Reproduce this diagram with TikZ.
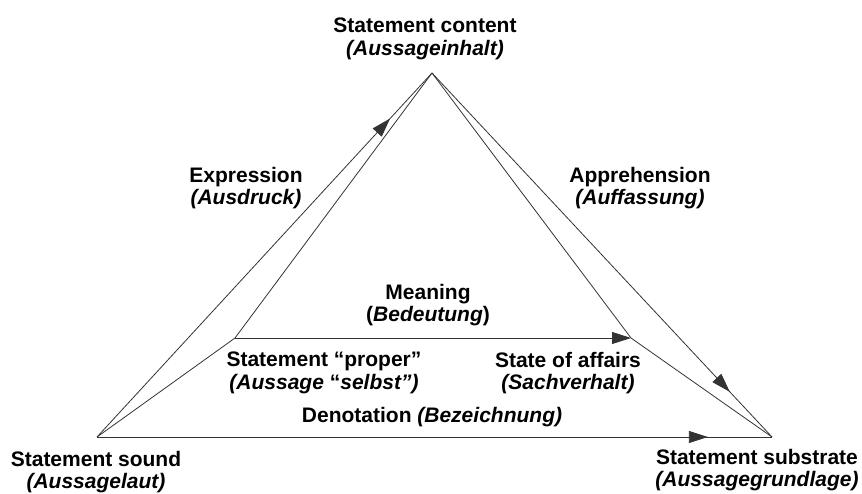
\documentclass[tikz,border=0pt]{standalone}
\usepackage{fontspec}
\setmainfont{Liberation Sans}
\usepackage{tikz}
\usetikzlibrary{arrows.meta}
\usetikzlibrary{decorations.markings}
\usetikzlibrary{positioning}

\begin{document}
\begin{tikzpicture}[x=1pt,y=-1pt,
            edge/.style = {draw=black!80, line width=0.8pt},
            tip/.style = {-{Triangle[length=19pt,width=12pt]}},
            midarrow/.style = {postaction={decorate},
                decoration={markings,mark=at position #1 with {\arrow{Triangle[length=19pt,width=12pt]}}}},
            lbl/.style = {align=center, inner sep=0pt,
                font=\fontsize{21}{22.5}\selectfont\bfseries}]
            \useasboundingbox (0,0) rectangle (862,494);

            % corners of the triangle
            \coordinate (content) at (432,73);
            \coordinate (sound) at (97,437);
            \coordinate (substrate) at (772,437);
            \coordinate (proper) at (235,338);
            \coordinate (affairs) at (631,338);

            \node[lbl] (tcontent) at (425,39) {Statement content\\\textit{(Aussageinhalt)}};
            \node[lbl] (tsound) at (96,472) {Statement sound\\\textit{(Aussagelaut)}};
            \node[lbl] (tsubstrate) at (757,470) {Statement substrate\\\textit{(Aussagegrundlage)}};

            \node[lbl] (texpr) at (246,188) {Expression\\\textit{(Ausdruck)}};
            \node[lbl] (tappr) at (640,188) {Apprehension\\\textit{(Auffassung)}};
            \node[lbl] (tmeaning) at (428,305) {Meaning\\(\textit{Bedeutung})};
            \node[lbl] (tproper) at (324,373) {Statement ``proper''\\\textit{(Aussage }``\textit{selbst'')}};
            \node[lbl] (taffairs) at (568,373) {State of affairs\\\textit{(Sachverhalt)}};
            \node[lbl] (tdenot) at (432,417) {Denotation \textit{(Bezeichnung)}};

            % outer edges
            \draw [edge, midarrow=0.875] (sound) -- (content);
            \draw [edge, midarrow=0.876] (content) -- (substrate);
            \draw [edge, midarrow=0.905] (sound) -- (substrate);

            % inner edges
            \draw [edge] (sound) -- (proper) -- (content);
            \draw [edge] (content) -- (affairs) -- (substrate);
            \draw [edge, tip] (proper) -- (affairs);
\end{tikzpicture}
\end{document}
